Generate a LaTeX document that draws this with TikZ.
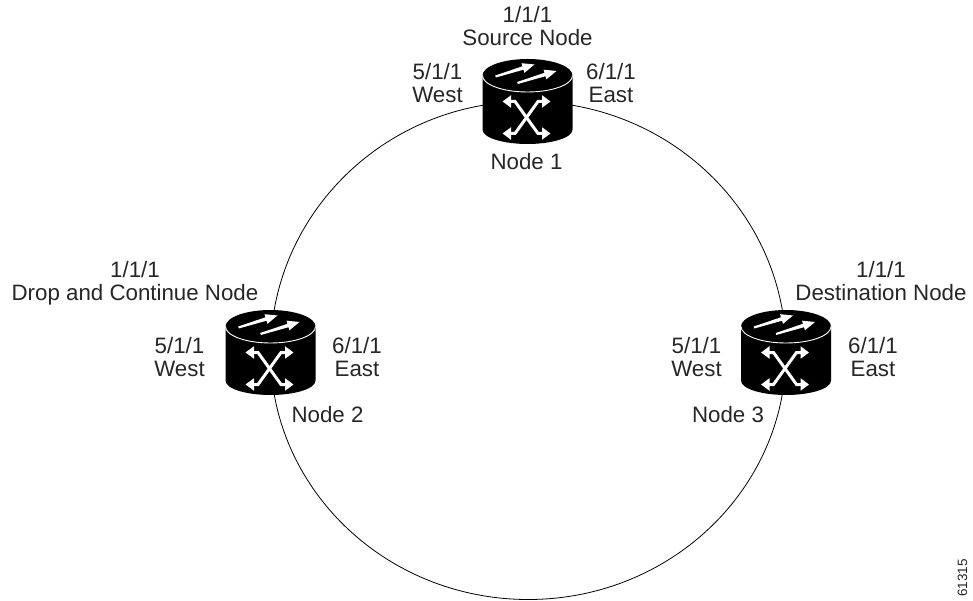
\documentclass[tikz,border=0pt]{standalone}
\usepackage{fontspec}
\setmainfont{Liberation Sans}
\usetikzlibrary{arrows.meta}
\tikzset{
  x=1pt,y=1pt,
  lbl/.style={align=center,font=\fontsize{22.3}{23}\selectfont,inner sep=0pt,text=black!85},
  hubanchor/.style={inner sep=0pt,minimum width=90pt,minimum height=85pt},
  ringline/.style={draw=black,line width=0.8pt},
  swarrow/.style={draw=white,line width=3pt,{Triangle[length=8.5pt,width=12pt]}-{Triangle[length=8.5pt,width=12pt]}},
}
\newcommand{\toparrowshape}{(-32.3,26) -- (-5.03,35.2) -- (-5.97,38.3) -- (7,37) -- (-3.03,28.7) -- (-3.97,31.8) -- (-31.7,24) -- cycle}
\newcommand{\hubdraw}[1]{%
  \begin{scope}[shift={(#1)}]
    \fill[black] (-45,26) -- (-45,-28) .. controls (-45,-37) and (-22,-42.5) .. (0,-42.5) .. controls (22,-42.5) and (45,-37) .. (45,-28) -- (45,26) arc[start angle=0,end angle=180,x radius=45pt,y radius=16.5pt] -- cycle;
    \draw[white,line width=0.9pt] (-45,26) arc[start angle=180,end angle=360,x radius=45pt,y radius=16.5pt];
    \fill[white] \toparrowshape;
    \fill[white,shift={(22,-6.5)}] \toparrowshape;
    \draw[swarrow] (-25,0) -- (-12.5,0) -- (10.5,-32) -- (23,-32);
    \draw[swarrow] (-25,-32) -- (-12.5,-32) -- (10.5,0) -- (23,0);
  \end{scope}}
\begin{document}
\begin{tikzpicture}
\useasboundingbox (0,0) rectangle (973,600);
\node[hubanchor] (n1) at (527.5,498.5) {};
\node[hubanchor] (n2) at (270.5,247.5) {};
\node[hubanchor] (n3) at (786,247.5) {};
\draw[ringline] (n1.center) arc[start angle=90,end angle=180,x radius=257pt,y radius=251pt];
\draw[ringline] (n2.center) arc[start angle=180,end angle=360,x radius=257.75pt,y radius=247pt];
\draw[ringline] (n3.center) arc[start angle=0,end angle=90,x radius=258.5pt,y radius=251pt];
\hubdraw{n1.center}
\hubdraw{n2.center}
\hubdraw{n3.center}
\node[lbl] (t1) at (527.5,574) {1/1/1\\Source Node};
\node[lbl] (t2) at (437.5,517) {5/1/1\\West};
\node[lbl] (t3) at (611,517) {6/1/1\\East};
\node[lbl] (t4) at (526.5,438) {Node 1};
\node[lbl] (t5) at (135,316.6) {1/1/1\\Drop and Continue Node};
\node[lbl] (t6) at (179.5,243) {5/1/1\\West};
\node[lbl] (t7) at (357,243) {6/1/1\\East};
\node[lbl] (t8) at (327.5,185.5) {Node 2};
\node[lbl] (t9) at (881,319) {1/1/1\\Destination Node};
\node[lbl] (t10) at (696.5,243) {5/1/1\\West};
\node[lbl] (t11) at (873,243) {6/1/1\\East};
\node[lbl] (t12) at (728,185.5) {Node 3};
\node[lbl,font=\fontsize{13.5}{14}\selectfont,rotate=90] (t13) at (962.5,22) {61315};
\end{tikzpicture}
\end{document}
